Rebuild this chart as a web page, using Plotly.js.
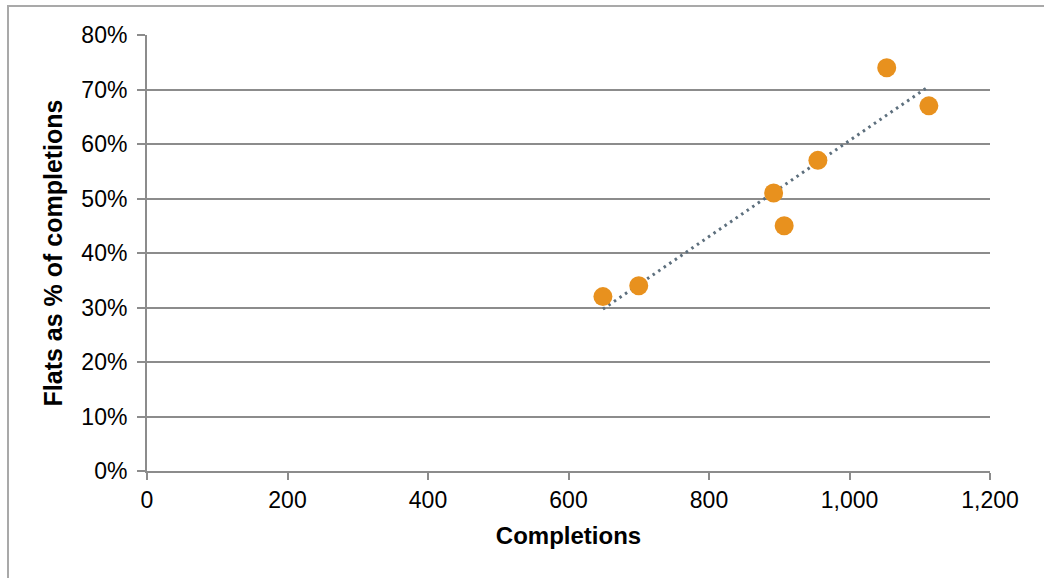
<!DOCTYPE html>
<html>
<head>
<meta charset="utf-8">
<script src="https://cdn.plot.ly/plotly-3.0.1.min.js"></script>
<style>
  html, body { margin: 0; padding: 0; background: #fff; }
  #wrap { position: relative; width: 1044px; height: 578px; overflow: hidden; }
  #frame { position: absolute; left: 7px; top: 5px; width: 1100px; height: 700px;
           border-left: 2px solid #a9a9a9; border-top: 2px solid #a9a9a9; pointer-events: none; z-index: 5; }
  #chart { position: absolute; left: 0; top: 0; width: 1044px; height: 578px; }
</style>
</head>
<body>
<div id="wrap">
  <div id="chart"></div>
  <div id="frame"></div>
</div>
<script>
// Data
const completions = [649, 700, 892, 907, 955, 1053, 1113];
const flatsPct    = [32, 34, 51, 45, 57, 74, 67];
const xTickVals   = [0, 200, 400, 600, 800, 1000, 1200];
const xTickText   = ['0', '200', '400', '600', '800', '1,000', '1,200'];
const yTickVals   = [0, 10, 20, 30, 40, 50, 60, 70, 80];
const yTickText   = ['0%', '10%', '20%', '30%', '40%', '50%', '60%', '70%', '80%'];

// Linear trendline (least squares) computed from the data
const n = completions.length;
const mx = completions.reduce((a, b) => a + b, 0) / n;
const my = flatsPct.reduce((a, b) => a + b, 0) / n;
let sxy = 0, sxx = 0;
for (let i = 0; i < n; i++) {
  sxy += (completions[i] - mx) * (flatsPct[i] - my);
  sxx += (completions[i] - mx) ** 2;
}
const slope = sxy / sxx;
const intercept = my - slope * mx;
const xMin = Math.min(...completions), xMax = Math.max(...completions);
const trendX = [xMin, xMax];
const trendY = trendX.map(x => intercept + slope * x);

const font = 'Liberation Sans, Arial, sans-serif';

const traces = [
  {
    x: trendX, y: trendY, type: 'scatter', mode: 'lines',
    line: { color: '#5d6f7d', width: 3, dash: '2.5px,4.2px' },
    hoverinfo: 'skip', showlegend: false
  },
  {
    x: completions, y: flatsPct, type: 'scatter', mode: 'markers',
    marker: { color: '#e8911e', size: 19, line: { width: 0 } },
    showlegend: false
  }
];

const layout = {
  width: 1044, height: 578,
  margin: { l: 147, r: 54, t: 35, b: 107 },
  paper_bgcolor: '#ffffff', plot_bgcolor: '#ffffff',
  font: { family: font, size: 23, color: '#000' },
  showlegend: false,
  xaxis: {
    range: [0, 1200], tickvals: xTickVals, ticktext: xTickText,
    showgrid: false, zeroline: false,
    showline: true, linecolor: '#8c8c8c', linewidth: 2,
    ticks: 'outside', ticklen: 7, tickwidth: 2, tickcolor: '#8c8c8c',
    tickfont: { family: font, size: 23, color: '#000' },
    title: { text: 'Completions', font: { family: font, size: 24, color: '#000', weight: 'bold' }, standoff: 16 },
    fixedrange: true
  },
  yaxis: {
    range: [0, 80], tickvals: yTickVals, ticktext: yTickText,
    showgrid: true, gridcolor: '#8c8c8c', gridwidth: 2,
    zeroline: false,
    showline: true, linecolor: '#8c8c8c', linewidth: 2,
    ticks: 'outside', ticklen: 8, tickwidth: 2, tickcolor: '#8c8c8c',
    ticklabelstandoff: 5,
    tickfont: { family: font, size: 23, color: '#000' },
    title: { text: 'Flats as % of completions', font: { family: font, size: 25, color: '#000', weight: 'bold' }, standoff: 12 },
    fixedrange: true
  }
};

Plotly.newPlot('chart', traces, layout, { displayModeBar: false, staticPlot: true });
</script>
</body>
</html>
